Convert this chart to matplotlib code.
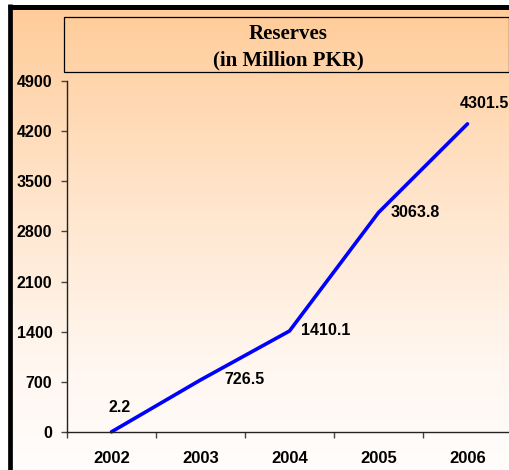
import numpy as np
import matplotlib
matplotlib.use("Agg")
import matplotlib.pyplot as plt
from matplotlib.patches import Rectangle
from matplotlib.lines import Line2D
from matplotlib.colors import LinearSegmentedColormap

# Data
years = ["2002", "2003", "2004", "2005", "2006"]
reserves = [2.2, 726.5, 1410.1, 3063.8, 4301.5]
value_labels = ["2.2", "726.5", "1410.1", "3063.8", "4301.5"]
y_ticks = [0, 700, 1400, 2100, 2800, 3500, 4200, 4900]

W, H = 510, 470
fig = plt.figure(figsize=(W / 100, H / 100), dpi=100)
fig.patch.set_facecolor("white")

def fx(px):
    return px / W

def fy(py):
    return 1 - py / H

# Peach-to-white vertical gradient inside the frame
bg = fig.add_axes([fx(12), 0, 1 - fx(12), fy(9)], zorder=-10)
cmap = LinearSegmentedColormap.from_list(
    "peach", [(0.0, "#FFCC99"), (0.4, "#FFE4CA"), (0.75, "#FFF6EE"), (1.0, "#FFFDFC")])
grad = np.linspace(0, 1, 256).reshape(-1, 1)
bg.imshow(grad, aspect="auto", cmap=cmap, extent=[0, 1, 0, 1], origin="upper")
bg.set_axis_off()

# Black frame on the left and top
fig.add_artist(Line2D([fx(10), fx(10)], [0, fy(4)], color="black", lw=3.4,
                      transform=fig.transFigure, solid_capstyle="butt"))
fig.add_artist(Line2D([fx(8), 1], [fy(6.5), fy(6.5)], color="black", lw=3.6,
                      transform=fig.transFigure, solid_capstyle="butt"))

# Title box
fig.add_artist(Rectangle((fx(64), fy(72)), fx(509) - fx(64), fy(17) - fy(72),
                         transform=fig.transFigure, fill=False, edgecolor="black", lw=0.9))
fig.text(fx(288), fy(34), "Reserves", ha="center", va="center",
         family="Liberation Serif", weight="bold", fontsize=15, color="black")
fig.text(fx(288), fy(60), "(in Million PKR)", ha="center", va="center",
         family="Liberation Serif", weight="bold", fontsize=15, color="black")

# Plot area
ax = fig.add_axes([fx(67), fy(432), fx(512) - fx(67), fy(81) - fy(432)])
ax.patch.set_alpha(0)
x = np.arange(len(years))
ax.plot(x, reserves, color="#0000FF", lw=2.6, solid_capstyle="round", clip_on=False)

ax.set_xlim(-0.5, len(years) - 0.5)
ax.set_ylim(0, 4900)
ax.set_yticks(y_ticks)
ax.set_yticklabels([str(v) for v in y_ticks])
ax.set_xticks(np.arange(-0.5, len(years) - 0.5, 1.0))
ax.set_xticklabels([])
ax.set_xticks(x, minor=True)
ax.set_xticklabels(years, minor=True)

for side in ["top", "right"]:
    ax.spines[side].set_visible(False)
for side in ["left", "bottom"]:
    ax.spines[side].set_color("#222222")
    ax.spines[side].set_linewidth(1.0)

ax.tick_params(axis="y", direction="out", length=4, width=1, color="#444444",
               pad=6.5, labelsize=11.5)
ax.tick_params(axis="x", which="major", direction="out", length=4.5, width=1,
               color="#444444")
ax.tick_params(axis="x", which="minor", length=0, pad=13.5, labelsize=12)
for lab in ax.get_yticklabels() + ax.get_xticklabels(minor=True):
    lab.set_fontweight("bold")
    lab.set_family("Liberation Sans")

# Value labels (pixel offsets from each point)
offsets = [(8, 24), (44, 0), (36, 0), (37, 0), (17, 20)]
for xi, v, t, (dx, dy) in zip(x, reserves, value_labels, offsets):
    ax.annotate(t, (xi, v), xytext=(dx, dy), textcoords="offset pixels",
                ha="center", va="center", fontsize=11.5, fontweight="bold",
                family="Liberation Sans", color="black", annotation_clip=False)

fig.savefig("out.png", dpi=100)
